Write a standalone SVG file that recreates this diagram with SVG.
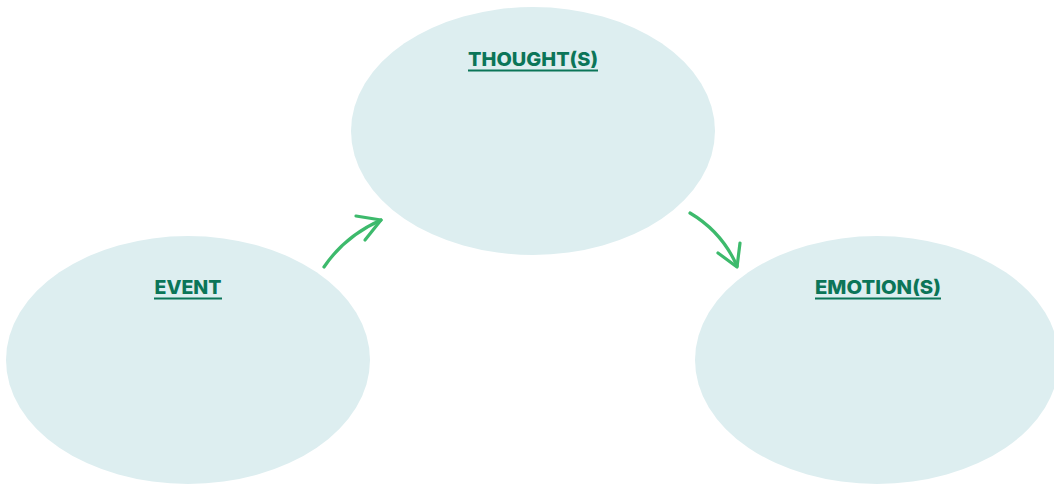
<svg xmlns="http://www.w3.org/2000/svg" width="1054" height="484" viewBox="0 0 1054 484">
<style>
.bubble{fill:#ddeef0;}
.lbl{font-family:"Inter","Liberation Sans",sans-serif;font-weight:800;font-size:19px;fill:#0b7558;text-anchor:middle;}
.ul{stroke:#0b7558;stroke-width:2;}
.arr{fill:none;stroke:#3dba6c;stroke-width:3.2;stroke-linecap:round;stroke-linejoin:round;}
</style>
<rect width="1054" height="484" fill="#ffffff"/>
<g id="thoughts">
<ellipse class="bubble" cx="533" cy="131" rx="182" ry="124"/>
<text class="lbl" x="533" y="66" textLength="130" lengthAdjust="spacingAndGlyphs">THOUGHT(S)</text>
<line class="ul" x1="468" y1="70.5" x2="598" y2="70.5"/>
</g>
<g id="event">
<ellipse class="bubble" cx="188" cy="360" rx="182" ry="124"/>
<text class="lbl" x="188" y="294" textLength="67" lengthAdjust="spacingAndGlyphs">EVENT</text>
<line class="ul" x1="154" y1="298.5" x2="222" y2="298.5"/>
</g>
<g id="emotions">
<ellipse class="bubble" cx="877" cy="360" rx="182" ry="124"/>
<text class="lbl" x="878" y="294" textLength="126" lengthAdjust="spacingAndGlyphs">EMOTION(S)</text>
<line class="ul" x1="815" y1="298.5" x2="941" y2="298.5"/>
</g>
<g id="connectors">
<path class="arr" d="M324 267 Q345 236 381 220"/>
<path class="arr" d="M356 216 L381 220 L365 240"/>
<path class="arr" d="M690 213 Q722 232 737 266"/>
<path class="arr" d="M718 253 L737 267 L740 243"/>
</g>
</svg>
